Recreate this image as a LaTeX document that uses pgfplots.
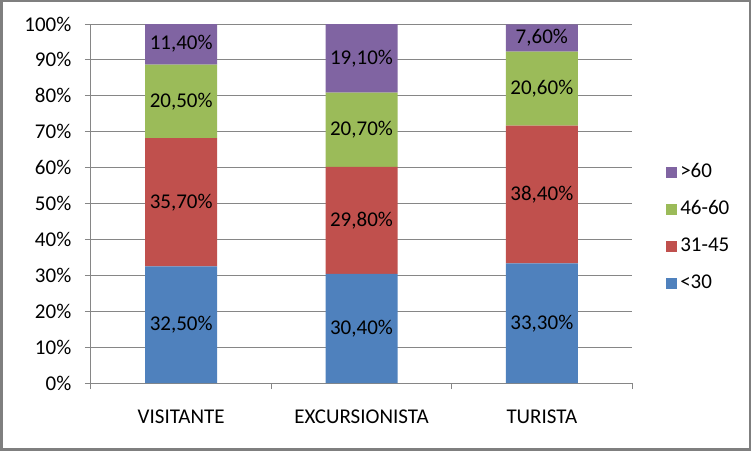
\documentclass[border=0pt]{standalone}
\usepackage{fontspec}
\setmainfont{Carlito}
\usepackage{pgfplots}
\usepackage{pgfplotstable}
\pgfplotsset{compat=1.18}
\definecolor{cblue}{HTML}{4F81BD}
\definecolor{cred}{HTML}{C0504D}
\definecolor{cgreen}{HTML}{9BBB59}
\definecolor{cpurple}{HTML}{8064A2}
\definecolor{axgray}{HTML}{868686}
\definecolor{frgray}{HTML}{7F7F7F}
\pgfplotstableread{
x a b c d
0 32.5 35.7 20.5 11.4
1 30.4 29.8 20.7 19.1
2 33.3 38.4 20.6 7.6
}\data
\pgfplotstableread{
x y lab
0 16.25 32,50
0 50.35 35,70
0 78.45 20,50
0 94.40 11,40
1 15.20 30,40
1 45.30 29,80
1 70.55 20,70
1 90.45 19,10
2 16.65 33,30
2 52.50 38,40
2 82.00 20,60
2 96.10 7,60
}\labels
\begin{document}
\fontsize{21}{25}\selectfont
\begin{tikzpicture}
\useasboundingbox (-91pt,-68pt) rectangle (662pt,383pt);
\draw[frgray, line width=2.5pt] (-89.6pt,-66.6pt) rectangle (659.2pt,381.8pt);
\begin{axis}[
  at={(0,0)}, anchor=south west,
  scale only axis, width=541pt, height=359pt,
  /pgf/number format/assume math mode=true,
  ybar stacked, bar width=72pt,
  xmin=-0.5, xmax=2.5, ymin=0, ymax=100,
  xtick={-0.5,0.5,1.5,2.5}, xticklabels={},
  extra x ticks={0,1,2},
  extra x tick labels={VISITANTE,EXCURSIONISTA,TURISTA},
  extra x tick style={major tick length=0pt, grid=none,
    xticklabel style={anchor=north, inner sep=0pt, yshift=-27pt}},
  ytick={0,10,...,100},
  yticklabel={\pgfmathprintnumber{\tick}\%},
  yticklabel style={anchor=east, inner sep=0pt, xshift=-13.5pt},
  axis x line*=bottom, axis y line*=left,
  axis line style={draw=axgray, line width=1pt, -},
  ymajorgrids, grid style={draw=axgray, line width=1pt},
  tick style={draw=axgray, line width=1pt},
  tick align=outside, major tick length=6pt,
  every axis plot post/.append style={draw=none,
    legend image code/.code={\fill[##1] (0pt,-5.5pt) rectangle (11pt,5.5pt);}},
  reverse legend,
  legend style={at={(rel axis cs:1.063,0.432)}, anchor=west, draw=none, fill=none,
    row sep=19pt, inner sep=0pt,
    nodes={inner sep=0pt, inner xsep=3pt, anchor=west, text height=14pt, text depth=4pt}},
]
\addplot[fill=cblue] table[x=x,y=a]{\data};
\addplot[fill=cred] table[x=x,y=b]{\data};
\addplot[fill=cgreen] table[x=x,y=c]{\data};
\addplot[fill=cpurple] table[x=x,y=d]{\data};
\legend{\textless{}30,31-45,46-60,\textgreater{}60}
\end{axis}
\begin{axis}[
  at={(0,0)}, anchor=south west,
  scale only axis, width=541pt, height=359pt,
  xmin=-0.5, xmax=2.5, ymin=0, ymax=100,
  hide axis, clip=false,
]
\addplot[draw=none, mark=none, point meta=explicit symbolic,
  nodes near coords={\pgfplotspointmeta\%},
  nodes near coords style={anchor=center, inner sep=0pt, text=black}]
  table[x=x,y=y,meta=lab]{\labels};
\end{axis}
\end{tikzpicture}
\end{document}
